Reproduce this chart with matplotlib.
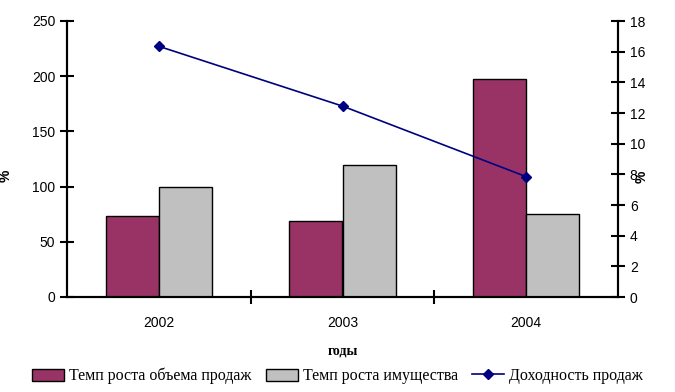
import numpy as np
import matplotlib.pyplot as plt
from matplotlib.ticker import MultipleLocator

years = ['2002', '2003', '2004']
sales_growth = [73, 68.5, 197.5]     # Темп роста объема продаж, %
assets_growth = [100, 120, 75]       # Темп роста имущества, %
profitability = [16.35, 12.45, 7.85]  # Доходность продаж, %

RED = '#993366'
GRAY = '#C0C0C0'
NAVY = '#000080'
TICK_FONT = 'Liberation Sans'
SERIF = 'Liberation Serif'

fig = plt.figure(figsize=(6.75, 3.92), dpi=100)
ax = fig.add_axes([67 / 675, 1 - 297 / 392, (618 - 67) / 675, (297 - 21) / 392])
ax2 = ax.twinx()

x = np.arange(len(years))
w = 0.29
b1 = ax.bar(x - w / 2, sales_growth, w, color=RED, edgecolor='black', linewidth=1,
            label='Темп роста объема продаж')
b2 = ax.bar(x + w / 2, assets_growth, w, color=GRAY, edgecolor='black', linewidth=1,
            label='Темп роста имущества')
ln, = ax2.plot(x, profitability, color=NAVY, marker='D', markersize=5, linewidth=1.2,
               label='Доходность продаж')

ax.set_xlim(-0.5, 2.5)
ax.set_ylim(0, 250)
ax2.set_ylim(0, 18)
ax.yaxis.set_major_locator(MultipleLocator(50))
ax2.yaxis.set_major_locator(MultipleLocator(2))

ax.set_xticks(x)
ax.set_xticklabels(years, family=TICK_FONT, fontsize=10)
ax.set_xticks([0.5, 1.5], minor=True)
ax.tick_params(axis='x', which='major', length=0, pad=14)
ax.tick_params(axis='x', which='minor', direction='inout', length=10, width=1.5)
ax.tick_params(axis='y', direction='inout', length=10, width=1.5, labelsize=10)
ax2.tick_params(axis='y', direction='inout', length=10, width=1.5, labelsize=10)
for lab in ax.get_yticklabels() + ax2.get_yticklabels():
    lab.set_family(TICK_FONT)

for a in (ax, ax2):
    a.spines['top'].set_visible(False)
    for s in ('left', 'right', 'bottom'):
        a.spines[s].set_linewidth(1.5)

ax.set_ylabel('%', family=TICK_FONT, fontsize=10, fontweight='bold')
ax.yaxis.set_label_coords(-0.098, 0.44)
ax2.set_ylabel('%', family=TICK_FONT, fontsize=10, fontweight='bold', rotation=90)
ax2.yaxis.set_label_coords(1.03, 7.85 / 18)

ax.set_xlabel('годы', family=SERIF, fontsize=10, fontweight='bold', labelpad=10)

fig.legend([b1, b2, ln], [b1.get_label(), b2.get_label(), ln.get_label()],
           loc='center', bbox_to_anchor=(0.5, 1 - 376 / 392), ncol=3, frameon=False,
           prop={'family': SERIF, 'size': 11.5}, handlelength=2.0, handleheight=0.8,
           handletextpad=0.3, columnspacing=0.9)

fig.savefig('out.png', dpi=100)
